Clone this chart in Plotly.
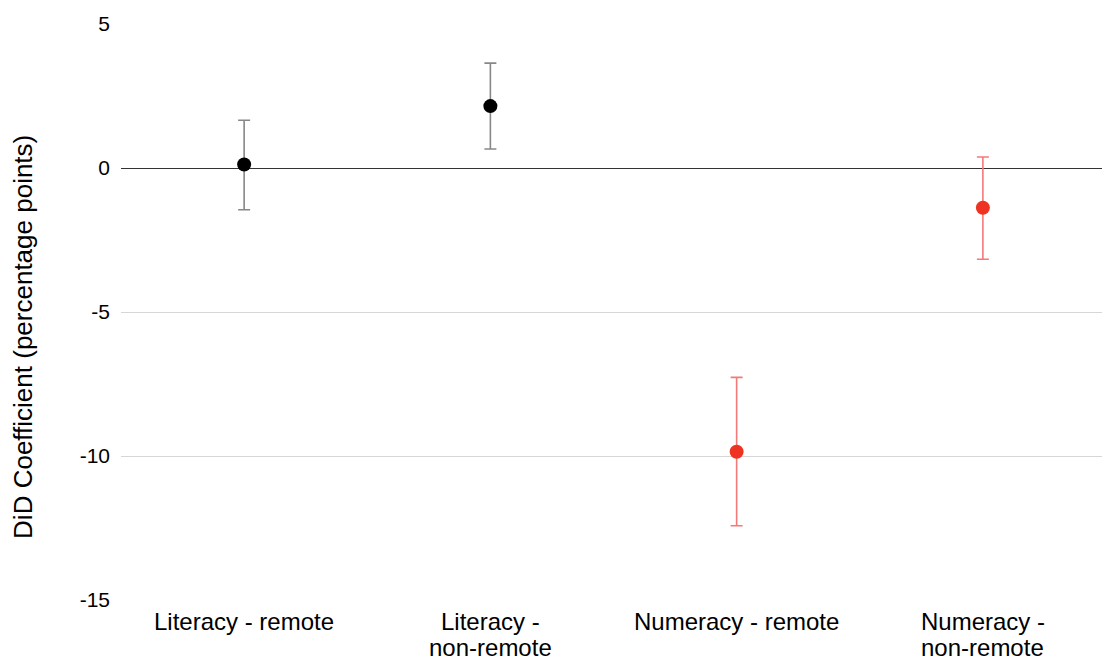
import plotly.graph_objects as go

categories = ["Literacy - remote", "Literacy -<br>non-remote", "Numeracy - remote", "Numeracy -<br>non-remote"]
coef = [0.12, 2.15, -9.85, -1.38]
upper = [1.66, 3.64, -7.27, 0.38]
lower = [-1.45, 0.66, -12.42, -3.17]
marker_colors = ["#000000", "#000000", "#ee3322", "#ee3322"]
bar_colors = ["#888888", "#888888", "#f47a7a", "#f47a7a"]
y_ticks = [5, 0, -5, -10, -15]
y_title = "DiD Coefficient (percentage points)"

fig = go.Figure()
for i in range(len(categories)):
    fig.add_trace(go.Scatter(
        x=[categories[i]], y=[coef[i]], mode="markers",
        marker=dict(size=14, color=marker_colors[i]),
        error_y=dict(type="data", symmetric=False,
                     array=[upper[i] - coef[i]], arrayminus=[coef[i] - lower[i]],
                     color=bar_colors[i], thickness=1.6, width=6),
        showlegend=False,
    ))

# x category labels (each line placed separately to match tight line spacing)
PLOT_TOP, PLOT_BOTTOM = 22, 600
def paper_y(px):
    return (PLOT_BOTTOM - px) / (PLOT_BOTTOM - PLOT_TOP)

line_centers = [622, 648]
for cat in categories:
    for j, line in enumerate(cat.split("<br>")):
        fig.add_annotation(x=cat, xref="x", y=paper_y(line_centers[j]), yref="paper",
                           text=line, showarrow=False, xanchor="center", yanchor="middle",
                           font=dict(size=24, color="#000000"))

fig.add_annotation(x=(23 - 121) / 985, xref="paper", y=paper_y(336), yref="paper",
                   text=y_title, textangle=-90, showarrow=False,
                   xanchor="center", yanchor="middle", font=dict(size=26, color="#000000"))

fig.update_layout(
    width=1102, height=656,
    margin=dict(l=113, r=4, t=14, b=64),
    paper_bgcolor="white", plot_bgcolor="white",
    font=dict(family="Liberation Sans, Arial, sans-serif", size=21, color="#000000"),
    xaxis=dict(type="category", categoryorder="array", categoryarray=categories,
               range=[-0.5, len(categories) - 0.5],
               showgrid=False, showline=False, zeroline=False, ticks="",
               showticklabels=False),
    yaxis=dict(range=[-15, 5], tickvals=y_ticks, ticktext=[str(v) for v in y_ticks],
               showgrid=True, gridcolor="#d6d6d6", gridwidth=1,
               zeroline=True, zerolinecolor="#333333", zerolinewidth=1.2,
               showline=False, ticks="", ticklabelstandoff=10,
               tickfont=dict(size=21)),
)

fig.write_html("out.html")
